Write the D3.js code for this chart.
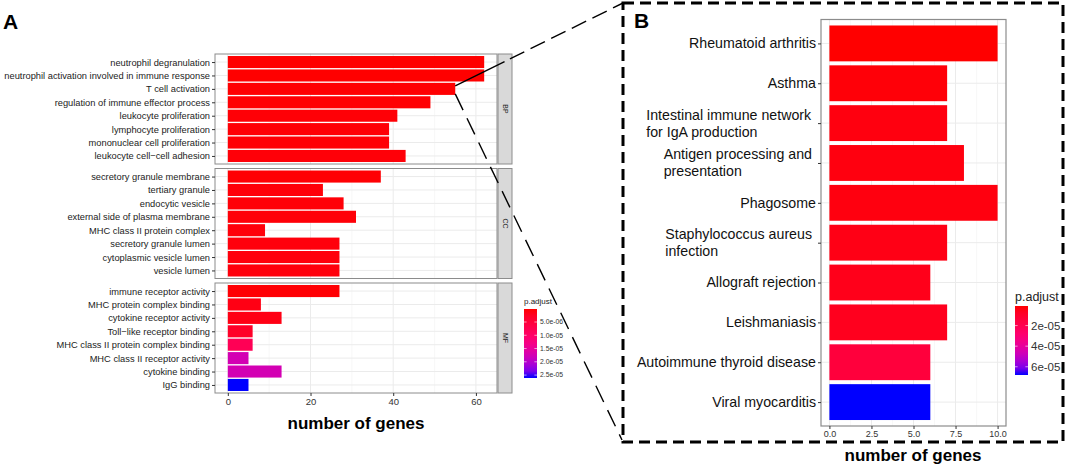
<!DOCTYPE html>
<html>
<head>
<meta charset="utf-8">
<script src="https://cdn.jsdelivr.net/npm/d3@7"></script>
<style>
  body { margin: 0; background: #fff; }
  svg { display: block; font-family: "Liberation Sans", Arial, sans-serif; }
</style>
</head>
<body>
<svg id="chart" width="1065" height="465"></svg>
<script>
// ---- panel A : GO enrichment ----
const bpTerms = ["neutrophil degranulation", "neutrophil activation involved in immune response", "T cell activation",
  "regulation of immune effector process", "leukocyte proliferation", "lymphocyte proliferation",
  "mononuclear cell proliferation", "leukocyte cell\u2212cell adhesion"];
const bpCounts = [62, 62, 55, 49, 41, 39, 39, 43];
const bpP = [1e-7, 1e-7, 2e-7, 3e-7, 4e-7, 4e-7, 4e-7, 5e-7];

const ccTerms = ["secretory granule membrane", "tertiary granule", "endocytic vesicle", "external side of plasma membrane",
  "MHC class II protein complex", "secretory granule lumen", "cytoplasmic vesicle lumen", "vesicle lumen"];
const ccCounts = [37, 23, 28, 31, 9, 27, 27, 27];
const ccP = [3e-7, 5e-7, 5e-7, 5e-7, 6e-7, 7e-7, 7e-7, 7e-7];

const mfTerms = ["immune receptor activity", "MHC protein complex binding", "cytokine receptor activity",
  "Toll\u2212like receptor binding", "MHC class II protein complex binding", "MHC class II receptor activity",
  "cytokine binding", "IgG binding"];
const mfCounts = [27, 8, 13, 6, 6, 5, 13, 5];
const mfP = [3e-7, 1.2e-6, 1.2e-6, 3e-6, 8e-6, 1.75e-5, 1.75e-5, 2.61e-5];

const facetNames = ["BP", "CC", "MF"];
const ticksA = [0, 20, 40, 60];
const legendATicks = [5e-6, 1e-5, 1.5e-5, 2e-5, 2.5e-5];

// ---- panel B : KEGG ----
const keggTerms = ["Rheumatoid arthritis", "Asthma", "Intestinal immune network\nfor IgA production",
  "Antigen processing and\npresentation", "Phagosome", "Staphylococcus aureus\ninfection", "Allograft rejection",
  "Leishmaniasis", "Autoimmune thyroid disease", "Viral myocarditis"];
const keggCounts = [10, 7, 7, 8, 10, 7, 6, 7, 6, 6];
const keggP = [1e-6, 2e-6, 3e-6, 3e-6, 3e-6, 4e-6, 5e-6, 6e-6, 1.4e-5, 6.8e-5];
const ticksB = [0, 2.5, 5, 7.5, 10];
const legendBTicks = [2e-5, 4e-5, 6e-5];

const svg = d3.select("#chart");
const gridMajor = "#ebebeb", gridMinor = "#f4f4f4", frame = "#8c8c8c";

// ggplot style exponent "5.0e-06"
const sci = (digits) => (v) => d3.format("." + digits + "e")(v).replace(/e([+-])(\d)$/, "e$10$2");

// ================= panel A =================
const xA = d3.scaleLinear().domain([-3.1, 65.1]).range([215, 497]);
const allA = bpP.concat(ccP, mfP);
const colorA = d3.scaleLinear().domain(d3.extent(allA)).range(["red", "blue"]).interpolate(d3.interpolateHcl);

const facets = [
  { name: facetNames[0], terms: bpTerms, counts: bpCounts, p: bpP, y0: 54, y1: 164 },
  { name: facetNames[1], terms: ccTerms, counts: ccCounts, p: ccP, y0: 168.5, y1: 278.5 },
  { name: facetNames[2], terms: mfTerms, counts: mfCounts, p: mfP, y0: 283, y1: 393 },
];

facets.forEach((f) => {
  const g = svg.append("g");
  const y = d3.scalePoint().domain(f.terms).range([f.y0, f.y1]).padding(0.6);
  const bh = y.step() * 0.9;

  // grid
  g.selectAll(".minor").data([10, 30, 50]).join("line")
    .attr("x1", xA).attr("x2", xA).attr("y1", f.y0).attr("y2", f.y1)
    .attr("stroke", gridMinor).attr("stroke-width", 0.6);
  g.selectAll(".major").data(ticksA).join("line")
    .attr("x1", xA).attr("x2", xA).attr("y1", f.y0).attr("y2", f.y1)
    .attr("stroke", gridMajor).attr("stroke-width", 1);
  g.selectAll(".hgrid").data(f.terms).join("line")
    .attr("x1", xA.range()[0]).attr("x2", xA.range()[1]).attr("y1", y).attr("y2", y)
    .attr("stroke", gridMajor).attr("stroke-width", 1);

  // bars
  g.selectAll("rect.bar").data(f.terms).join("rect")
    .attr("x", xA(0))
    .attr("y", (d) => y(d) - bh / 2)
    .attr("width", (d, i) => xA(f.counts[i]) - xA(0))
    .attr("height", bh)
    .attr("fill", (d, i) => colorA(f.p[i]));

  // frame
  g.append("rect").attr("x", 215).attr("y", f.y0).attr("width", 282).attr("height", f.y1 - f.y0)
    .attr("fill", "none").attr("stroke", frame).attr("stroke-width", 1);

  // y axis
  const ya = g.append("g").attr("transform", "translate(215,0)")
    .call(d3.axisLeft(y).tickSize(3).tickPadding(2));
  ya.select(".domain").remove();
  ya.selectAll(".tick line").attr("stroke", "#333");
  ya.selectAll(".tick text").attr("font-size", 9.3).attr("fill", "#222").attr("font-family", null);

  // strip
  g.append("rect").attr("x", 498).attr("y", f.y0).attr("width", 14).attr("height", f.y1 - f.y0)
    .attr("fill", "#d9d9d9").attr("stroke", frame).attr("stroke-width", 1);
  g.append("text").attr("transform", `translate(505,${(f.y0 + f.y1) / 2}) rotate(90)`)
    .attr("text-anchor", "middle").attr("dy", "0.35em").attr("font-size", 7).attr("fill", "#1a1a1a")
    .text(f.name);
});

// x axis A
const xaA = svg.append("g").attr("transform", "translate(0,393)")
  .call(d3.axisBottom(xA).tickValues(ticksA).tickSize(3).tickPadding(2));
xaA.select(".domain").remove();
xaA.selectAll(".tick line").attr("stroke", "#333");
xaA.selectAll(".tick text").attr("font-size", 9.5).attr("fill", "#333").attr("font-family", null);

svg.append("text").attr("x", 356).attr("y", 429).attr("text-anchor", "middle")
  .attr("font-size", 17).attr("font-weight", "bold").text("number of genes");

// colour bar legend, low p at the top
function colorbar(x, y, w, h, scale, ticks, fmt, title, titleSize, labelSize, id) {
  const lg = svg.append("g");
  const defs = svg.append("defs");
  const grad = defs.append("linearGradient").attr("id", id).attr("x1", 0).attr("x2", 0).attr("y1", 0).attr("y2", 1);
  d3.range(0, 1.0001, 0.1).forEach((t) => {
    grad.append("stop").attr("offset", t).attr("stop-color", scale(scale.domain()[0] + t * (scale.domain()[1] - scale.domain()[0])));
  });
  const ly = d3.scaleLinear().domain(scale.domain()).range([y, y + h]);
  lg.append("text").attr("x", x).attr("y", y - 5).attr("font-size", titleSize).attr("fill", "#222").text(title);
  lg.append("rect").attr("x", x).attr("y", y).attr("width", w).attr("height", h).attr("fill", `url(#${id})`);
  ticks.forEach((t) => {
    lg.append("line").attr("x1", x).attr("x2", x + w * 0.2).attr("y1", ly(t)).attr("y2", ly(t)).attr("stroke", "#fff").attr("stroke-width", 0.6);
    lg.append("line").attr("x1", x + w * 0.8).attr("x2", x + w).attr("y1", ly(t)).attr("y2", ly(t)).attr("stroke", "#fff").attr("stroke-width", 0.6);
    lg.append("text").attr("x", x + w + 3).attr("y", ly(t)).attr("dy", "0.35em")
      .attr("font-size", labelSize).attr("fill", "#333").text(fmt(t));
  });
}
colorbar(524, 309, 13, 69, colorA, legendATicks, sci(1), "p.adjust", 8, 6.8, "gradA");

// ================= panel B =================
const xB = d3.scaleLinear().domain([-0.5, 10.5]).range([821, 1006]);
const yB = d3.scalePoint().domain(keggTerms).range([19.5, 426]).padding(0.6);
const colorB = d3.scaleLinear().domain(d3.extent(keggP)).range(["red", "blue"]).interpolate(d3.interpolateHcl);
const gB = svg.append("g");
const bhB = yB.step() * 0.9;

gB.selectAll(".minor").data([1.25, 3.75, 6.25, 8.75]).join("line")
  .attr("x1", xB).attr("x2", xB).attr("y1", 19.5).attr("y2", 426)
  .attr("stroke", gridMinor).attr("stroke-width", 0.6);
gB.selectAll(".major").data(ticksB).join("line")
  .attr("x1", xB).attr("x2", xB).attr("y1", 19.5).attr("y2", 426)
  .attr("stroke", gridMajor).attr("stroke-width", 1);
gB.selectAll(".hgrid").data(keggTerms).join("line")
  .attr("x1", 821).attr("x2", 1006).attr("y1", yB).attr("y2", yB)
  .attr("stroke", gridMajor).attr("stroke-width", 1);

gB.selectAll("rect.bar").data(keggTerms).join("rect")
  .attr("x", xB(0))
  .attr("y", (d) => yB(d) - bhB / 2)
  .attr("width", (d, i) => xB(keggCounts[i]) - xB(0))
  .attr("height", bhB)
  .attr("fill", (d, i) => colorB(keggP[i]));

gB.append("rect").attr("x", 821).attr("y", 19.5).attr("width", 185).attr("height", 406.5)
  .attr("fill", "none").attr("stroke", frame).attr("stroke-width", 1.2);

// y labels B (multi-line blocks: lines left aligned, block right aligned)
const yaB = gB.append("g").attr("transform", "translate(821,0)")
  .call(d3.axisLeft(yB).tickSize(3).tickFormat(""));
yaB.select(".domain").remove();
yaB.selectAll(".tick line").attr("stroke", "#333");
keggTerms.forEach((term) => {
  const lines = term.split("\n");
  const t = gB.append("text").attr("font-size", 14.2).attr("fill", "#111");
  const lh = 17;
  lines.forEach((ln, k) => {
    t.append("tspan").attr("x", 0).attr("y", yB(term) + (k - (lines.length - 1) / 2) * lh).attr("dy", "0.35em").text(ln);
  });
  const w = t.node().getBBox().width;
  const right = lines.length > 1 ? 812 : 816;
  t.selectAll("tspan").attr("x", right - w);
});

const xaB = gB.append("g").attr("transform", "translate(0,426)")
  .call(d3.axisBottom(xB).tickValues(ticksB).tickFormat(d3.format(".1f")).tickSize(3).tickPadding(2));
xaB.select(".domain").remove();
xaB.selectAll(".tick line").attr("stroke", "#333");
xaB.selectAll(".tick text").attr("font-size", 9).attr("fill", "#333").attr("font-family", null);

svg.append("text").attr("x", 913).attr("y", 461).attr("text-anchor", "middle")
  .attr("font-size", 17).attr("font-weight", "bold").text("number of genes");

colorbar(1015, 306, 13, 69, colorB, legendBTicks, sci(0), "p.adjust", 12.5, 11.5, "gradB");

// dashed frame round panel B
svg.append("rect").attr("x", 623).attr("y", 3).attr("width", 440).attr("height", 439)
  .attr("fill", "none").attr("stroke", "#000").attr("stroke-width", 3).attr("stroke-dasharray", "11,6");

// zoom connector lines from the T cell activation bar
const tcY = facets[0].y0 + 0.6 * (110 / 8.2) + 2 * (110 / 8.2);
const tcX = xA(bpCounts[2]);
svg.append("line").attr("x1", tcX).attr("y1", tcY - 3).attr("x2", 623).attr("y2", 3)
  .attr("stroke", "#000").attr("stroke-width", 1.4).attr("stroke-dasharray", "55,6,16,7,16,7,16,7,16,7,16,7,16,7");
svg.append("line").attr("x1", tcX).attr("y1", tcY + 5).attr("x2", 622).attr("y2", 440)
  .attr("stroke", "#000").attr("stroke-width", 1.4).attr("stroke-dasharray", "18,9");

// panel letters
svg.append("text").attr("x", 3).attr("y", 29).attr("font-size", 21).attr("font-weight", "bold").text("A");
svg.append("text").attr("x", 634).attr("y", 28).attr("font-size", 21).attr("font-weight", "bold").text("B");
</script>
</body>
</html>
